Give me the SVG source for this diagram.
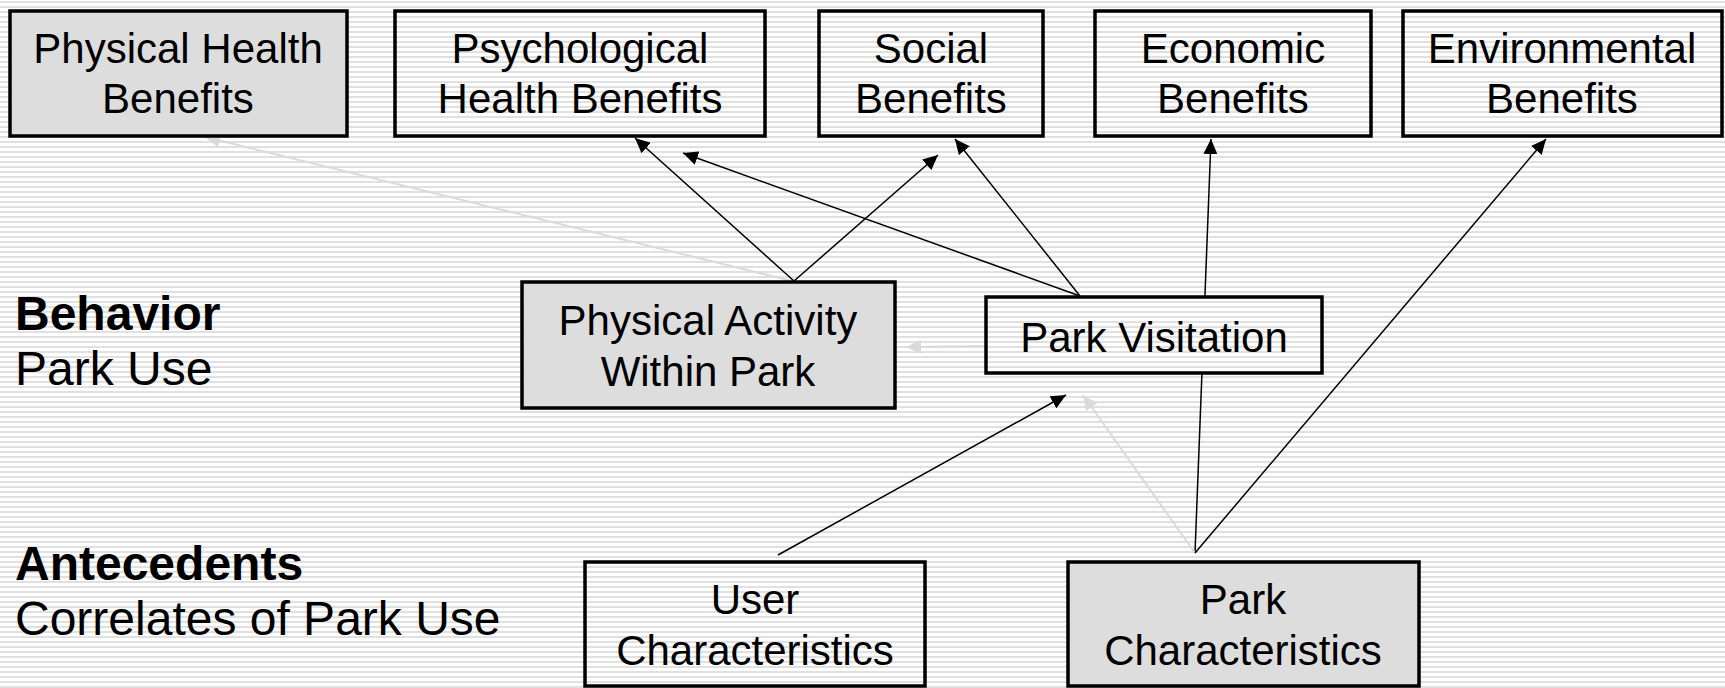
<svg xmlns="http://www.w3.org/2000/svg" width="1725" height="688" viewBox="0 0 1725 688">
<defs>
<pattern id="stripes" patternUnits="userSpaceOnUse" x="0" y="0" width="10" height="5">
<rect x="0" y="0" width="10" height="5" fill="#ffffff"/>
<rect x="0" y="1" width="10" height="2" fill="#e0e0e0"/>
</pattern>
<marker id="ab" markerUnits="userSpaceOnUse" markerWidth="16" markerHeight="14" refX="15" refY="7" orient="auto">
<path d="M0,0 L15,7 L0,14 z" fill="#000"/>
</marker>
<marker id="ag" markerUnits="userSpaceOnUse" markerWidth="16" markerHeight="14" refX="15" refY="7" orient="auto">
<path d="M0,0 L15,7 L0,14 z" fill="#dadada"/>
</marker>
<style>
.box{stroke:#000;stroke-width:3.5;fill:url(#stripes)}
.gray{fill:#dddddd}
.t{font-family:"Liberation Sans",Arial,sans-serif;font-size:42px;fill:#000;text-anchor:middle}
.lab{font-family:"Liberation Sans",Arial,sans-serif;font-size:48px;fill:#000}
.b{font-weight:bold}
.cb{stroke:#000;stroke-width:1.5;fill:none}
.cg{stroke:#dadada;stroke-width:2;fill:none}
</style>
</defs>
<rect x="0" y="0" width="1725" height="688" fill="url(#stripes)"/>

<g id="connectors">
<line class="cg" x1="792" y1="281" x2="205" y2="137" marker-end="url(#ag)"/>
<line class="cb" x1="794" y1="281" x2="635" y2="138" marker-end="url(#ab)"/>
<line class="cb" x1="794" y1="281" x2="938" y2="155" marker-end="url(#ab)"/>
<line class="cb" x1="1080" y1="296" x2="683" y2="153" marker-end="url(#ab)"/>
<line class="cb" x1="1080" y1="296" x2="955" y2="139" marker-end="url(#ab)"/>
<line class="cb" x1="1195" y1="553" x2="1211" y2="139" marker-end="url(#ab)"/>
<line class="cg" x1="987" y1="346" x2="906" y2="347" marker-end="url(#ag)"/>
<line class="cb" x1="778" y1="555" x2="1066" y2="395" marker-end="url(#ab)"/>
<line class="cg" x1="1195" y1="553" x2="1083" y2="395" marker-end="url(#ag)"/>
<line class="cb" x1="1195" y1="553" x2="1546" y2="139" marker-end="url(#ab)"/>
</g>

<g id="physical-health-benefits">
<rect class="box gray" x="10" y="11" width="337" height="125"/>
<text class="t" x="178" y="63">Physical Health</text>
<text class="t" x="178" y="113">Benefits</text>
</g>
<g id="psychological-health-benefits">
<rect class="box" x="395" y="11" width="370" height="125"/>
<text class="t" x="580" y="63">Psychological</text>
<text class="t" x="580" y="113">Health Benefits</text>
</g>
<g id="social-benefits">
<rect class="box" x="819" y="11" width="224" height="125"/>
<text class="t" x="931" y="63">Social</text>
<text class="t" x="931" y="113">Benefits</text>
</g>
<g id="economic-benefits">
<rect class="box" x="1095" y="11" width="276" height="125"/>
<text class="t" x="1233" y="63">Economic</text>
<text class="t" x="1233" y="113">Benefits</text>
</g>
<g id="environmental-benefits">
<rect class="box" x="1403" y="11" width="319" height="125"/>
<text class="t" x="1562" y="63">Environmental</text>
<text class="t" x="1562" y="113">Benefits</text>
</g>
<g id="physical-activity">
<rect class="box gray" x="522" y="282" width="373" height="126"/>
<text class="t" x="708" y="335">Physical Activity</text>
<text class="t" x="708" y="386">Within Park</text>
</g>
<g id="park-visitation">
<rect class="box" x="986" y="297" width="336" height="76"/>
<text class="t" x="1154" y="352">Park Visitation</text>
</g>
<g id="user-characteristics">
<rect class="box" x="585" y="562" width="340" height="124"/>
<text class="t" x="755" y="614">User</text>
<text class="t" x="755" y="665">Characteristics</text>
</g>
<g id="park-characteristics">
<rect class="box gray" x="1068" y="562" width="351" height="124"/>
<text class="t" x="1243" y="614">Park</text>
<text class="t" x="1243" y="665">Characteristics</text>
</g>

<g id="labels">
<text class="lab b" x="15" y="330">Behavior</text>
<text class="lab" x="15" y="385">Park Use</text>
<text class="lab b" x="15" y="580">Antecedents</text>
<text class="lab" x="15" y="635">Correlates of Park Use</text>
</g>
</svg>
